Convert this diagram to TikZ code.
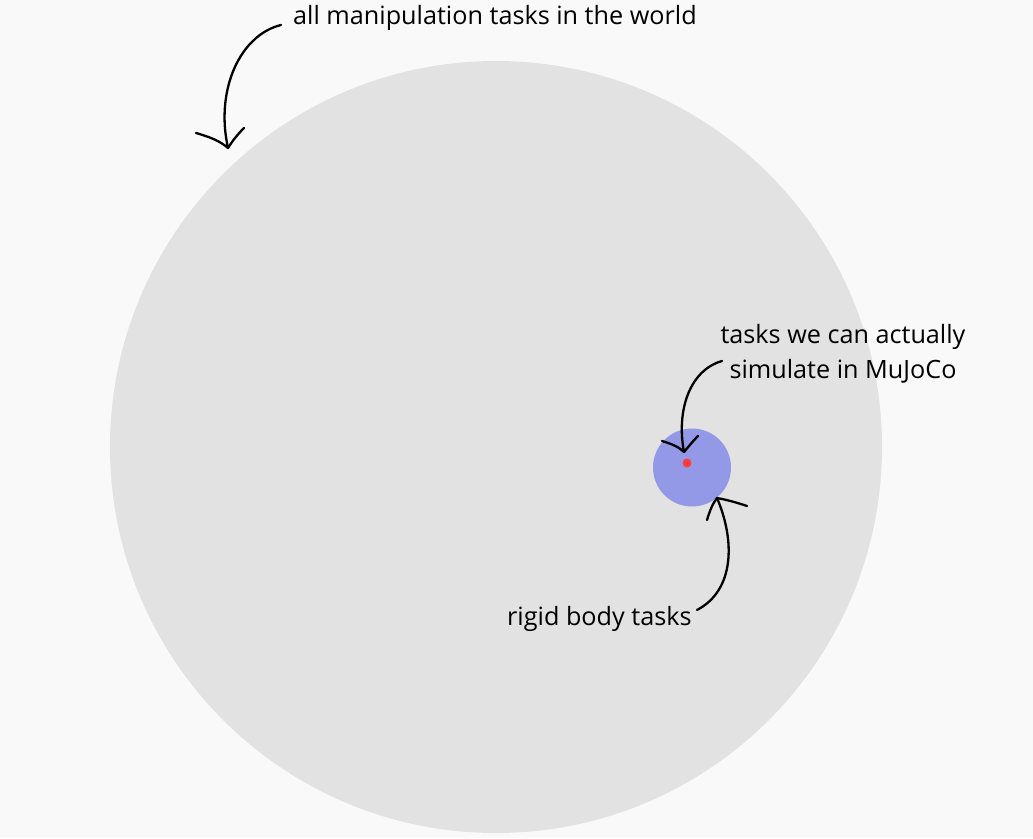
\documentclass[tikz,border=0pt]{standalone}
\usepackage{fontspec}
\setmainfont{Open Sans}
\definecolor{bgc}{HTML}{F9F9F9}
\definecolor{bigc}{HTML}{E2E2E2}
\definecolor{bluec}{HTML}{9399E6}
\definecolor{redc}{HTML}{FF3B3B}
\tikzset{
  lbl/.style={inner sep=0pt, font=\fontsize{25.2}{30}\selectfont, text=black},
  hand/.style={draw=black, line width=2.3pt, line cap=round, line join=round},
}
\begin{document}
\begin{tikzpicture}[x=1pt,y=-1pt]
\fill[bgc] (0,0) rectangle (1033,838);
\useasboundingbox (0,0) rectangle (1033,838);
\fill[bigc] (496,447) circle (386);
\fill[bluec] (692,467.5) circle (39);
\fill[redc] (687,463) circle (4.5);

\node[lbl, anchor=base west] (world) at (293,24) {all manipulation tasks in the world};
\node[lbl, anchor=base] (mujocoA) at (843,343) {tasks we can actually};
\node[lbl, anchor=base] (mujocoB) at (843,378) {simulate in MuJoCo};
\node[lbl, anchor=base west] (rigid) at (507,625) {rigid body tasks};

% arrow 1
\coordinate (a1s) at (281,25);
\coordinate (a1t) at (228,148);
\coordinate (a1l) at (196,133);
\coordinate (a1r) at (244,128);
\path[hand] (a1s) .. controls (240,35) and (215,90) .. (a1t);
\path[hand] (a1l) .. controls (210,137) and (220,141) .. (a1t) .. controls (233,140) and (238,134) .. (a1r);

% arrow 2
\coordinate (a2s) at (722,361);
\coordinate (a2t) at (684,452);
\coordinate (a2l) at (662,441);
\coordinate (a2r) at (698,436);
\path[hand] (a2s) .. controls (690,370) and (676,410) .. (a2t);
\path[hand] (a2l) .. controls (672,444) and (679,447) .. (a2t) .. controls (689,446) and (693,441) .. (a2r);

% arrow 3
\coordinate (a3s) at (697,610);
\coordinate (a3t) at (717,498);
\coordinate (a3l) at (707,520);
\coordinate (a3r) at (747,506);
\path[hand] (a3s) .. controls (735,590) and (735,540) .. (a3t);
\path[hand] (a3l) .. controls (710,510) and (713,503) .. (a3t) .. controls (728,500) and (738,503) .. (a3r);
\end{tikzpicture}
\end{document}
